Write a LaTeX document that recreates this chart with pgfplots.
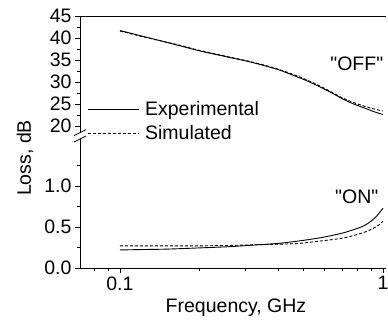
\documentclass[border=0pt]{standalone}
\usepackage{pgfplots}
\pgfplotsset{compat=1.18}
\usepackage{fontspec}
\setmainfont{Liberation Sans}[Ligatures=TeXOff]
\newcommand{\fs}{\fontsize{19.5}{22}\selectfont}
\begin{document}
\begin{tikzpicture}[x=1pt,y=1pt]
\useasboundingbox (-80,-59) rectangle (308,268);
\pgfplotsset{
  every axis/.append style={
    scale only axis, width=306.4pt,
    xmode=log, xmin=0.0705, xmax=1.03,
    tick align=outside,
    major tick length=5pt, minor tick length=3pt,
    every tick/.style={black, line width=0.8pt},
    axis line style={line width=0.8pt},
    ticklabel style={font=\fs},
    /pgf/number format/assume math mode=true,
    clip=false,
  }
}
% top panel
\begin{axis}[
  at={(0pt,135.4pt)}, anchor=south west, height=116.6pt,
  ymin=18.5, ymax=45,
  axis x line*=top, axis y line*=left,
  xtick=\empty, minor xtick={},
  ytick={20,25,30,35,40,45},
  minor ytick={22.5,27.5,32.5,37.5,42.5},
  legend style={draw=none, fill=none, at={(0.0228,0.285)}, anchor=north west,
    font=\fs, inner xsep=0pt, inner ysep=0pt, row sep=4pt,
    /tikz/every odd column/.append style={column sep=4pt}},
  legend cell align=left,
  legend image code/.code={\draw[#1] (0pt,0pt) -- (51pt,0pt);},
]
\addplot[black, line width=0.9pt, smooth] coordinates {
(0.1,41.7) (0.12,40.5) (0.142,39.4) (0.17,38.2) (0.2,37.1) (0.23,36.3) (0.26,35.6) (0.3,34.8) (0.34,34.0) (0.4,32.8) (0.48,31.0) (0.53,29.9) (0.58,28.8) (0.64,27.5) (0.69,26.4) (0.76,25.2) (0.84,24.2) (0.92,23.3) (1.0,22.6)};
\addlegendentry{Experimental}
\addplot[black, line width=0.9pt, dash pattern=on 3pt off 2pt, smooth] coordinates {
(0.1,41.6) (0.12,40.4) (0.142,39.4) (0.17,38.3) (0.2,37.2) (0.26,35.7) (0.3,34.9) (0.34,34.1) (0.4,32.9) (0.48,31.2) (0.58,29.0) (0.69,26.6) (0.76,25.5) (0.84,24.6) (0.92,23.9) (1.0,23.4)};
\addlegendentry{Simulated}
\node[font=\fs] at (axis cs:0.795,34.1) {"OFF"};
\end{axis}
% bottom panel
\begin{axis}[
  at={(0pt,0pt)}, anchor=south west, height=129pt,
  ymin=0, ymax=1.573,
  axis x line*=bottom, axis y line*=left,
  xtick={0.1,1}, xticklabels={0.1,1},
  minor xtick={0.08,0.09,0.2,0.3,0.4,0.5,0.6,0.7,0.8,0.9},
  ytick={0,0.5,1.0}, minor ytick={0.25,0.75,1.25},
  yticklabel style={/pgf/number format/.cd, fixed, fixed zerofill, precision=1},
]
\addplot[black, line width=0.9pt, smooth] coordinates {
(0.1,0.22)(0.12,0.225)(0.15,0.23)(0.2,0.245)(0.26,0.26)(0.34,0.285)(0.4,0.30)(0.48,0.33)(0.58,0.37)(0.69,0.42)(0.76,0.46)(0.84,0.51)(0.9,0.57)(0.95,0.64)(1.0,0.73)};
\addplot[black, line width=0.9pt, dash pattern=on 3pt off 2pt, smooth] coordinates {
(0.1,0.27)(0.15,0.27)(0.2,0.27)(0.26,0.275)(0.34,0.285)(0.4,0.29)(0.48,0.30)(0.58,0.33)(0.69,0.36)(0.76,0.39)(0.84,0.43)(0.9,0.47)(0.95,0.51)(1.0,0.57)};
\node[font=\fs] at (axis cs:0.795,0.866) {"ON"};
\end{axis}
% axis break
\draw[line width=0.8pt] (-6,132.4) -- (6,138.4);
\draw[line width=0.8pt] (-6,126) -- (6,132);
\node[font=\fs, rotate=90] at (-55,110) {Loss, dB};
\node[font=\fs] at (156,-40) {Frequency, GHz};
\end{tikzpicture}
\end{document}
